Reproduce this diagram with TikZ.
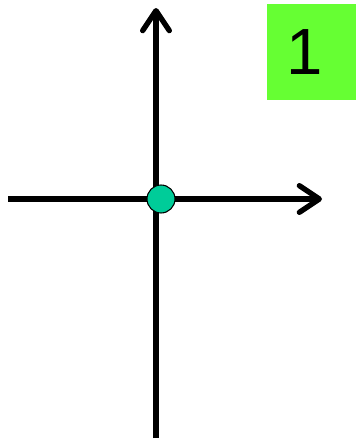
\documentclass[tikz,border=0pt]{standalone}
\usepackage{fontspec}
\setmainfont{Liberation Sans}
\usetikzlibrary{arrows.meta, positioning}
\definecolor{cDot}{RGB}{0,204,153}
\definecolor{cBox}{RGB}{102,255,51}

\begin{document}
\begin{tikzpicture}[x=0.75pt, y=-0.75pt,
    axis/.style={line width=4pt, -{Straight Barb[length=15pt, width=20pt, round]}},
    dot/.style={circle, draw, line width=0.8pt, fill=cDot, minimum size=21pt, inner sep=0pt},
    badge/.style={fill=cBox, minimum width=66.75pt, minimum height=72pt, inner sep=0pt, font=\fontsize{49}{49}\selectfont}]
    \useasboundingbox (0,0) rectangle (356,446);

    \coordinate (xstart) at (8,199);
    \coordinate (xend) at (322,199);
    \coordinate (ystart) at (156,438);
    \coordinate (yend) at (156,8);

    \draw[axis] (xstart) -- (xend);
    \draw[axis] (ystart) -- (yend);

    \node[dot] (origin) at (161,199) {};
    \node[badge] (num) at (311.5,52) {\kern-10pt 1};
\end{tikzpicture}
\end{document}
